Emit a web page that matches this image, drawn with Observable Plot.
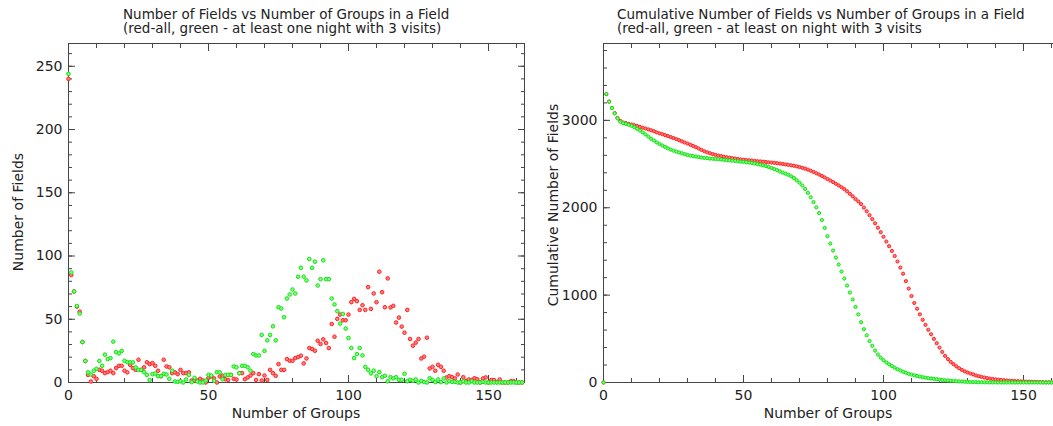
<!DOCTYPE html>
<html>
<head>
<meta charset="utf-8">
<script src="https://cdn.jsdelivr.net/npm/d3@7"></script>
<script src="https://cdn.jsdelivr.net/npm/@observablehq/plot@0.6"></script>
<style>
  html, body { margin: 0; padding: 0; background: #fff; overflow: hidden; }
  #wrap { position: relative; width: 1053px; height: 426px; overflow: hidden;
          font-family: "DejaVu Sans", sans-serif; color: #222; }
  .panel { position: absolute; top: 0; height: 426px; }
  .panel svg { max-width: none !important; display: block; }
  .title { position: absolute; font-size: 13.5px; line-height: 14px; white-space: pre; }
  .xlab { position: absolute; font-size: 14px; line-height: 14px; text-align: center; white-space: nowrap; }
  .ylab { position: absolute; font-size: 14px; line-height: 14px; white-space: nowrap;
          transform: translate(-50%, -50%) rotate(-90deg); }
</style>
</head>
<body>
<div id="wrap"></div>
<script>
// Number of groups per field (x axis, shared by both panels)
const groups = d3.range(0, 163);

// Number of fields with a given number of groups: all fields (red)
const fieldsAll = [
  240, 85, 72, 60, 56, 32, 17, 6, 0.8, 5,
  2.9, 10, 9.3, 7.4, 8.2, 9.3, 7.4, 11.4, 13.2, 13.2,
  9.3, 8, 14, 11.4, 10, 18, 10, 12, 16, 14.5,
  15.3, 13.2, 9.3, 5, 18, 12.7, 12, 7.4, 8, 6.6,
  10, 7.4, 7.4, 8, 1.6, 1.6, 1.6, 2.9, 1.6, 0,
  3.7, 4.8, 3.2, 0, 4.8, 5.3, 2.6, 2, 6, 2.9,
  2.4, 7.4, 7.4, 2.6, 4, 5.5, 7.4, 2, 6.6, 1.6,
  5.5, 2, 10, 7.4, 5.3, 14.5, 10, 10, 18.5, 17.2,
  17.2, 19.3, 20.1, 21.2, 15.1, 19, 27.2, 26.5, 25.1, 33,
  30.4, 34.1, 31.2, 27.2, 46.3, 36.2, 50.3, 53.7, 49.2, 49.2,
  53.7, 63.5, 66.1, 64.3, 57.4, 61.1, 57.4, 75.4, 58.2, 70.4,
  63.5, 87.6, 71.4, 59.5, 82.3, 59.3, 60.6, 47.4, 51.3, 44.2,
  39.4, 57.4, 34.4, 29.1, 31.5, 34.4, 19, 20.4, 35.4, 11.1,
  12.4, 9.3, 14, 12.4, 9.3, 4, 5, 4.2, 3.2, 6.3,
  0, 4.2, 1.3, 2.4, 2, 3.4, 2.6, 0, 3.2, 4,
  0, 1.9, 1.9, 0.3, 2.4, 0, 0, 0, 1, 1,
  0, 0, 0
];

// Fields with at least one night of 3 visits (green)
const fieldsThreeVisits = [
  244, 87, 72, 60.5, 54.5, 32, 17, 8, 6.3, 9.3,
  10.8, 17, 13.2, 22, 18.5, 19.3, 32.3, 24, 23, 25,
  17.2, 16.1, 15.9, 15.9, 11.9, 10, 10, 8.2, 6, 1.9,
  6.6, 7.1, 5, 5, 6.9, 6.3, 2.9, 9.3, 0.8, 0.5,
  1, 0, 2.4, 6, 0.3, 3.7, 0.8, 0, 0, 1.6,
  6, 5.5, 1.3, 8.2, 8, 2.6, 6, 6, 6, 12.7,
  12, 7.4, 13.2, 13.2, 12, 9.3, 22.5, 21.4, 21.4, 37.6,
  25, 33.3, 37.6, 44.4, 33.3, 59.5, 58.5, 51.6, 66.4, 69.6,
  73.5, 70.4, 83.6, 90.7, 83.6, 80.7, 97.6, 90.7, 95.5, 76.7,
  81.7, 96.6, 81.7, 81.7, 66.4, 61.7, 56.4, 46.6, 54.2, 42.6,
  35.2, 27.3, 19.3, 22.5, 27.3, 21.4, 12.4, 10.1, 7.2, 9.3,
  5, 8.2, 4.2, 5.3, 1, 4.2, 3.2, 4.2, 2.1, 2.1,
  6.9, 1, 2.1, 1.3, 2.4, 0, 1.3, 0.3, 0, 3.4,
  2.1, 0.3, 2.4, 0.3, 3.2, 0, 1, 0.5, 0.5, 0,
  0, 1, 0, 0, 1, 0, 0, 0, 0.5, 0,
  0, 0, 0, 0, 0, 0, 0, 0, 0, 0,
  0, 0, 0
];

// Cumulative number of fields (the first entry, at zero groups, is stored as 0)
const cumGroups = d3.range(0, 163);

const cumAll = [
  0,
  3300, 3215, 3143, 3083, 3027, 2995, 2975, 2968, 2960, 2953,
  2945, 2936, 2925, 2916, 2907, 2897, 2887, 2876, 2863, 2852,
  2842, 2831, 2820, 2809, 2798, 2786, 2773, 2760, 2747, 2735,
  2722, 2708, 2693, 2678, 2662, 2647, 2634, 2624, 2614, 2605,
  2597, 2590, 2584, 2578, 2573, 2568, 2563, 2558, 2553, 2550,
  2546, 2543, 2540, 2536, 2533, 2530, 2527, 2524, 2520, 2517,
  2514, 2510, 2506, 2501, 2496, 2491, 2486, 2481, 2474, 2466,
  2457, 2448, 2437, 2424, 2410, 2395, 2380, 2364, 2347, 2329,
  2312, 2294, 2275, 2256, 2235, 2214, 2188, 2160, 2131, 2100,
  2072, 2042, 2002, 1960, 1915, 1870, 1822, 1772, 1720, 1668,
  1614, 1560, 1506, 1448, 1385, 1315, 1245, 1160, 1075, 990,
  910, 845, 780, 718, 660, 604, 552, 500, 450, 400,
  350, 305, 268, 236, 210, 185, 163, 145, 128, 115,
  103, 93, 80, 72, 64, 57, 50, 45, 40, 36,
  32, 29, 26, 23, 20, 18, 16, 15, 13, 12,
  10, 9, 8, 7, 6, 5, 4, 3, 3, 2,
  1, 1
];

const cumThreeVisits = [
  0,
  3302, 3214, 3142, 3080, 3023, 2985, 2968, 2960, 2950, 2938,
  2922, 2905, 2885, 2862, 2840, 2815, 2790, 2770, 2748, 2730,
  2712, 2697, 2680, 2666, 2653, 2643, 2633, 2623, 2613, 2605,
  2597, 2592, 2586, 2580, 2575, 2571, 2568, 2563, 2561, 2558,
  2556, 2553, 2549, 2545, 2542, 2539, 2536, 2532, 2528, 2525,
  2521, 2517, 2513, 2507, 2500, 2493, 2485, 2477, 2466, 2455,
  2443, 2430, 2416, 2402, 2390, 2378, 2360, 2340, 2315, 2287,
  2255, 2215, 2170, 2120, 2065, 2005, 1940, 1860, 1770, 1675,
  1590, 1510, 1430, 1350, 1270, 1190, 1110, 1030, 950, 865,
  780, 690, 610, 540, 475, 420, 365, 320, 285, 255,
  230, 208, 188, 170, 152, 138, 124, 112, 100, 90,
  82, 75, 68, 61, 55, 50, 46, 42, 38, 33,
  29, 26, 23, 20, 18, 15, 13, 11, 9, 7,
  6, 5, 4, 3, 3, 2, 2, 1, 1, 1,
  0, 0, 0, 0, 0, 0, 0, 0, 0, 0,
  0, 0, 0, 0, 0, 0, 0, 0, 0, 0,
  0, 0
];

// Axis ticks
const xMajor = [0, 50, 100, 150];
const xMinor = d3.range(0, 170, 10);
const countMajor = [0, 50, 100, 150, 200, 250];
const countMinor = d3.range(0, 270, 10);
const cumMajor = [0, 1000, 2000, 3000];
const cumMinor = d3.range(0, 3900, 200);

const RED = {stroke: "#ff2222", fill: "#ff8080"};
const GREEN = {stroke: "#14e014", fill: "#80ff80"};

const toRows = (xs, ys) => xs.map((g, i) => ({g, n: ys[i]}));

// Inward-pointing major and minor ticks on all four sides of the frame
function boxTicks(yMajor, yMinor) {
  const blank = () => "";
  const marks = [];
  for (const a of ["bottom", "top"]) {
    marks.push(Plot.axisX({anchor: a, ticks: xMajor, tickSize: -7, tickFormat: blank, label: null, stroke: "#444"}));
    marks.push(Plot.axisX({anchor: a, ticks: xMinor, tickSize: -4, tickFormat: blank, label: null, stroke: "#444"}));
  }
  for (const a of ["left", "right"]) {
    marks.push(Plot.axisY({anchor: a, ticks: yMajor, tickSize: -7, tickFormat: blank, label: null, stroke: "#444"}));
    marks.push(Plot.axisY({anchor: a, ticks: yMinor, tickSize: -4, tickFormat: blank, label: null, stroke: "#444"}));
  }
  return marks;
}

function panel({width, marginLeft, marginRight, yDomain, yMajor, yMinor, red, green, r}) {
  return Plot.plot({
    width, height: 426,
    marginLeft, marginRight, marginTop: 43, marginBottom: 44,
    style: {fontFamily: "DejaVu Sans, sans-serif", fontSize: "14px", color: "#222", background: "transparent", overflow: "visible"},
    x: {domain: [0, 162.86]},
    y: {domain: yDomain},
    marks: [
      Plot.axisX({anchor: "bottom", ticks: xMajor, tickSize: 0, tickPadding: 8, label: null, tickFormat: d3.format("d"), fill: "#222"}),
      Plot.axisY({anchor: "left", ticks: yMajor, tickSize: 0, tickPadding: 6, label: null, tickFormat: d3.format("d"), fill: "#222"}),
      ...boxTicks(yMajor, yMinor),
      Plot.frame({stroke: "#444"}),
      Plot.dot(red, {x: "g", y: "n", r, strokeWidth: 1, ...RED}),
      Plot.dot(green, {x: "g", y: "n", r, strokeWidth: 1, ...GREEN})
    ]
  });
}

const wrap = document.getElementById("wrap");

function place(node, left, width) {
  const div = document.createElement("div");
  div.className = "panel";
  div.style.left = left + "px";
  div.style.width = width + "px";
  div.appendChild(node);
  wrap.appendChild(div);
}

function addText(cls, text, css) {
  const div = document.createElement("div");
  div.className = cls;
  div.textContent = text;
  Object.assign(div.style, css);
  wrap.appendChild(div);
}

// Left: counts per number of groups
place(panel({
  width: 530, marginLeft: 68, marginRight: 6,
  yDomain: [0, 268], yMajor: countMajor, yMinor: countMinor,
  red: toRows(groups, fieldsAll), green: toRows(groups, fieldsThreeVisits), r: 1.8
}), 0, 530);

// Right: cumulative counts
place(panel({
  width: 536, marginLeft: 73, marginRight: 7,
  yDomain: [0, 3880], yMajor: cumMajor, yMinor: cumMinor,
  red: toRows(cumGroups, cumAll), green: toRows(cumGroups, cumThreeVisits), r: 1.6
}), 530, 536);

addText("title", "Number of Fields vs Number of Groups in a Field\n(red-all, green - at least one night with 3 visits)", {left: "123px", top: "7px"});
addText("title", "Cumulative Number of Fields vs Number of Groups in a Field\n(red-all, green - at least on night with 3 visits", {left: "617px", top: "7px"});
addText("xlab", "Number of Groups", {left: "68px", width: "456px", top: "406px"});
addText("xlab", "Number of Groups", {left: "603px", width: "450px", top: "406px"});
addText("ylab", "Number of Fields", {left: "18px", top: "212px"});
addText("ylab", "Cumulative Number of Fields", {left: "553px", top: "205px"});
</script>
</body>
</html>
